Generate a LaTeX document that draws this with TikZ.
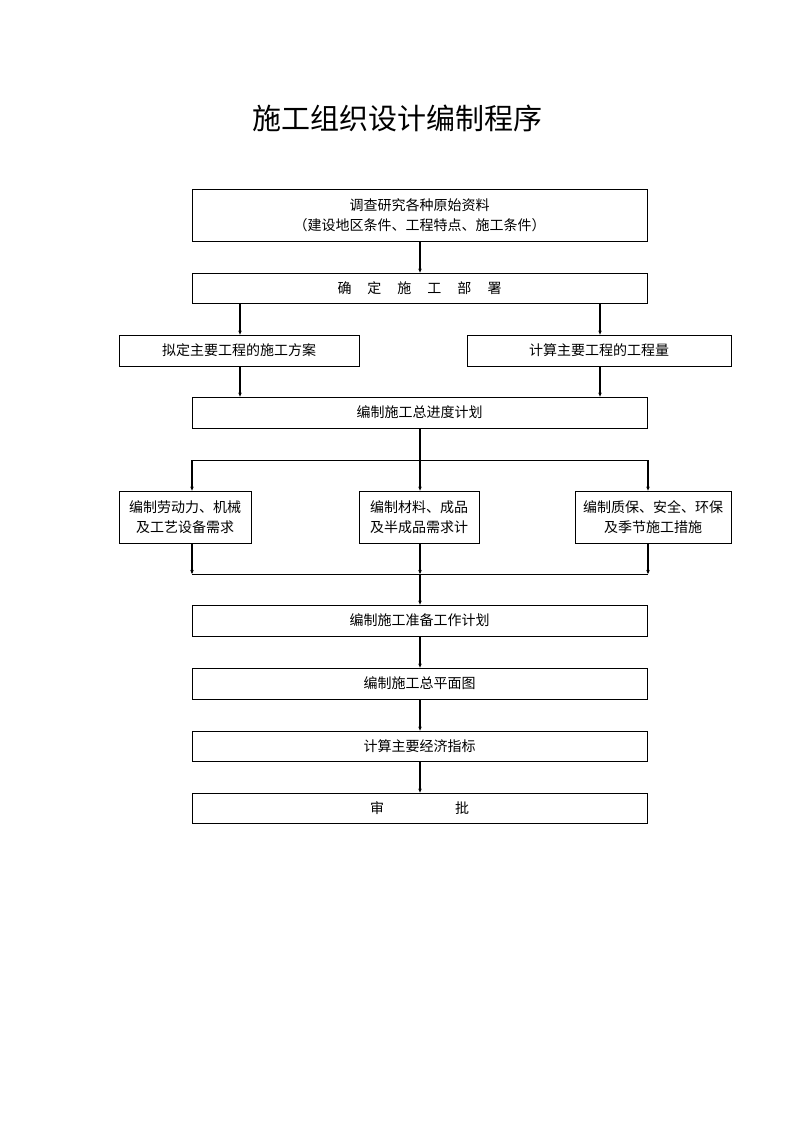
\documentclass[tikz,border=0pt]{standalone}
\usepackage{fontspec}
\setmainfont{Noto Sans CJK SC}
\usetikzlibrary{arrows.meta}
\begin{document}
\begin{tikzpicture}[x=1pt,y=-1pt,
  box/.style={draw,line width=0.8pt,inner sep=0pt,align=center,font=\fontsize{14}{20}\selectfont,minimum width=455pt,minimum height=31pt},
  arr/.style={line width=1.3pt,-{Stealth[length=4pt,width=3.5pt]}},
  ln/.style={line width=1.3pt}]
\useasboundingbox (0,0) rectangle (794,1123);
\fill[white] (0,0) rectangle (794,1123);
\node (title) at (397,118) {\fontsize{29}{32}\selectfont 施工组织设计编制程序};
\node[box,minimum height=52pt] (b1) at (419.5,215) {调查研究各种原始资料\\（建设地区条件、工程特点、施工条件）};
\node[box,minimum height=30pt] (b2) at (419.5,288) {确\hspace{16pt}定\hspace{16pt}施\hspace{16pt}工\hspace{16pt}部\hspace{16pt}署};
\node[box,minimum width=240pt] (b3l) at (239,350.5) {拟定主要工程的施工方案};
\node[box,minimum width=264pt] (b3r) at (599,350.5) {计算主要工程的工程量};
\node[box] (b4) at (419.5,412.5) {编制施工总进度计划};
\node[box,minimum width=132pt,minimum height=52pt] (b5l) at (185,517) {编制劳动力、机械\\及工艺设备需求};
\node[box,minimum width=120pt,minimum height=52pt] (b5m) at (419,517) {编制材料、成品\\及半成品需求计};
\node[box,minimum width=156pt,minimum height=52pt] (b5r) at (653,517) {编制质保、安全、环保\\及季节施工措施};
\node[box] (b6) at (419.5,620.5) {编制施工准备工作计划};
\node[box] (b7) at (419.5,683.5) {编制施工总平面图};
\node[box,minimum height=30pt] (b8) at (419.5,746) {计算主要经济指标};
\node[box,minimum height=30pt] (b9) at (419.5,808) {审\hspace{71pt}批};
% coordinates
\coordinate (xl) at (240,0);
\coordinate (xr) at (600,0);
\coordinate (s1) at (192,460);
\coordinate (s2) at (420,460);
\coordinate (s3) at (648,460);
\coordinate (m1) at (192,574);
\coordinate (m2) at (420,574);
\coordinate (m3) at (648,574);
% connectors
\draw[arr] (b1.south -| s2) -- (b2.north -| s2);
\draw[arr] (b2.south -| xl) -- (b3l.north -| xl);
\draw[arr] (b2.south -| xr) -- (b3r.north -| xr);
\draw[arr] (b3l.south -| xl) -- (b4.north -| xl);
\draw[arr] (b3r.south -| xr) -- (b4.north -| xr);
\draw[ln] (b4.south -| s2) -- (s2);
\draw[line width=1pt] (s1) -- (s3);
\draw[arr] (s1) -- (b5l.north -| s1);
\draw[arr] (s2) -- (b5m.north -| s2);
\draw[arr] (s3) -- (b5r.north -| s3);
\draw[arr] (b5l.south -| m1) -- (m1);
\draw[arr] (b5m.south -| m2) -- (m2);
\draw[arr] (b5r.south -| m3) -- (m3);
\draw[line width=1pt] (m1) -- (m3);
\draw[arr] (m2) -- (b6.north -| m2);
\draw[arr] (b6.south -| m2) -- (b7.north -| m2);
\draw[arr] (b7.south -| m2) -- (b8.north -| m2);
\draw[arr] (b8.south -| m2) -- (b9.north -| m2);
\end{tikzpicture}
\end{document}
